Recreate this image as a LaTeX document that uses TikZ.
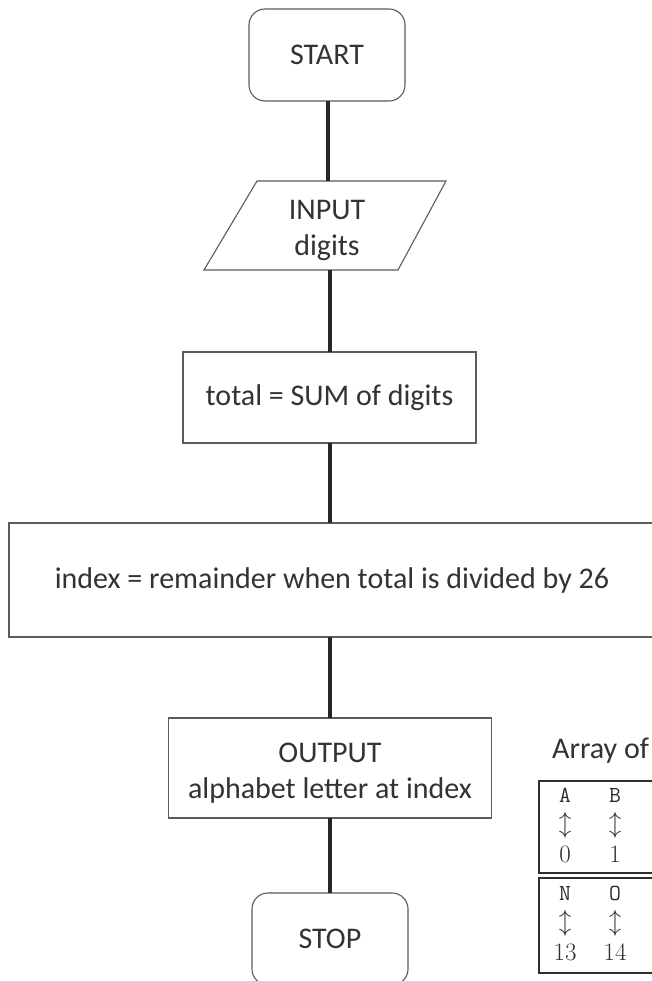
\documentclass[tikz,border=0pt]{standalone}
\usepackage{fontspec}
\setmainfont{Carlito}
\definecolor{txt}{HTML}{333333}
\definecolor{edge}{HTML}{5C5C5C}
\definecolor{conn}{HTML}{262626}
\definecolor{tab}{HTML}{2E2E2E}
\begin{document}
\begin{tikzpicture}[x=1pt,y=-1pt,
  box/.style={draw=edge, line width=1.1pt, text=txt, font=\fontsize{30}{36}\selectfont,
              align=center, inner sep=0pt, outer sep=0pt},
  term/.style={box, rounded corners=16pt},
  link/.style={draw=conn, line width=3.5pt},
  tbl/.style={draw=tab, line width=2pt},
  lett/.style={inner sep=0pt, text=tab, font=\fontfamily{lmtt}\fontsize{23}{23}\selectfont},
  num/.style={inner sep=0pt, text=tab, font=\fontfamily{lmr}\fontsize{25}{25}\selectfont},
  arr/.style={inner sep=0pt, text=tab, font=\fontsize{26}{26}\selectfont}]
\clip (0,0) rectangle (652,981);
\fill[white] (0,0) rectangle (652,981);

% flowchart nodes
\node[term, minimum width=156pt, minimum height=92pt] (start) at (327,55) {START};
\node[box, draw=none, minimum width=140pt, minimum height=89pt] (input) at (327,225.5)
  {\rule{0pt}{30pt}INPUT\\digits};
\draw[edge, line width=1.1pt] (257,181) -- (446,181) -- (398,270) -- (204,270) -- cycle;
\node[box, minimum width=293pt, minimum height=91pt] (total) at (329.5,397.5) {total = SUM of digits};
\node[box, minimum width=653pt, minimum height=114pt] (index) at (335.5,580)
  {index = remainder when total is divided by 26\hspace*{7pt}};
\node[box, minimum width=323pt, minimum height=100pt] (output) at (330,768)
  {\rule{0pt}{30pt}OUTPUT\\alphabet letter at index};
\node[term, minimum width=156pt, minimum height=92pt] (stop) at (330,939) {STOP};

% connectors
\draw[link] (start.south -| 328,0) -- (input.north -| 328,0);
\draw[link] (input.south -| 330,0) -- (total.north -| 330,0);
\draw[link] (total.south -| 330,0) -- (index.north -| 330,0);
\draw[link] (index.south -| 330,0) -- (output.north -| 330,0);
\draw[link] (output.south -| 330,0) -- (stop.north -| 330,0);

% array
\node[anchor=base west, inner sep=0pt, text=txt, font=\fontsize{30}{36}\selectfont] (arrtitle) at (552,758) {Array of};
\node[tbl, minimum width=122pt, minimum height=92pt, inner sep=0pt, anchor=north west] (row1) at (538,780) {};
\node[tbl, minimum width=122pt, minimum height=95pt, inner sep=0pt, anchor=north west] (row2) at (538,877) {};

\node[lett] (a) at (565,795) {A};
\node[lett] (b) at (615,795) {B};
\node[arr] (aa) at (565,825) {$\updownarrow$};
\node[arr] (ab) at (615,825) {$\updownarrow$};
\node[num] (n0) at (565,854) {0};
\node[num] (n1) at (615,854) {1};

\node[lett] (nn) at (565,893) {N};
\node[lett] (no) at (615,893) {O};
\node[arr] (an) at (565,923) {$\updownarrow$};
\node[arr] (ao) at (615,923) {$\updownarrow$};
\node[num] (n13) at (565,952) {13};
\node[num] (n14) at (615,952) {14};
\end{tikzpicture}
\end{document}
